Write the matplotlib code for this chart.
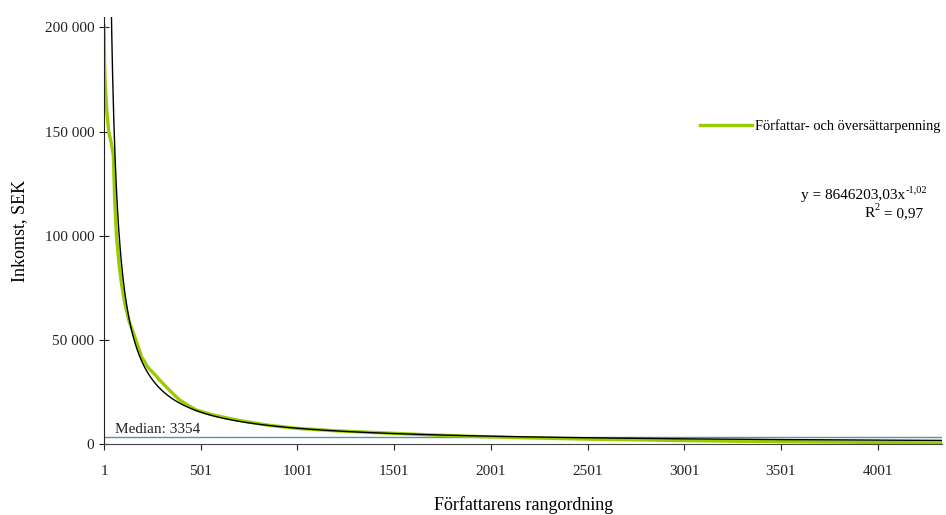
import numpy as np
import matplotlib
matplotlib.use("Agg")
import matplotlib.pyplot as plt
from matplotlib.transforms import offset_copy

plt.rcParams['font.family'] = ['Liberation Serif', 'DejaVu Serif']

# Rank vs income
rank = [1, 3, 6, 15, 25, 39, 49, 56, 65, 80, 91, 108, 130, 160, 195, 230, 272, 289,
        350, 393, 440, 479, 560, 650, 738, 850, 997, 1200, 1427, 1700, 2001, 2300,
        2501, 2800, 3001, 3300, 3501, 3800, 4001, 4200, 4335]
income = [201000, 185000, 174400, 160000, 150000, 144200, 138500, 117000, 100000,
          85000, 77000, 67500, 59000, 51400, 41800, 36500, 32500, 30600,
          24800, 21000, 18300, 16250, 14000, 12200, 10650, 9000, 7480, 6300, 5370,
          4300, 3350, 2700, 2300, 1900, 1600, 1300, 1100, 900, 700, 550, 450]

# Power-law trendline parameters from the chart
fit_a = 8646203.03
fit_b = -1.02
median = 3354

fig = plt.figure(figsize=(9.46, 5.15), dpi=100)
ax = fig.add_axes([0.110, 0.138, 0.886, 0.829])

xf = np.linspace(30, 4335, 2000)
ax.plot(xf, fit_a * xf ** fit_b, color='black', lw=1.0, zorder=3)
ax.plot(rank, income, color='#99cc00', lw=2.4, zorder=2,
        label='Författar- och översättarpenning')
ax.axhline(median, color='#4a9aa8', lw=1.0, zorder=1)
ax.text(60, median + 1800, 'Median: 3354', fontsize=11, color='#222222')

ax.set_xlim(1, 4335)
ax.set_ylim(0, 205000)
ax.set_xticks([1, 501, 1001, 1501, 2001, 2501, 3001, 3501, 4001])
ax.set_yticks([0, 50000, 100000, 150000, 200000])
ax.set_yticklabels(['0', '50 000', '100 000', '150 000', '200 000'])
for s in ['top', 'right']:
    ax.spines[s].set_visible(False)
ax.spines['left'].set_color('#222222')
ax.spines['bottom'].set_color('#444444')
ax.tick_params(axis='y', direction='inout', length=7, labelsize=11, colors='#222222')
ax.tick_params(axis='x', direction='out', length=4, labelsize=11, colors='#222222', pad=11)

ax.set_xlabel('Författarens rangordning', fontsize=13, labelpad=13)
ax.set_ylabel('Inkomst, SEK', fontsize=13, labelpad=12)

ax.legend(loc='upper right', bbox_to_anchor=(1.013, 0.79), frameon=False,
          fontsize=10.4, handlelength=3.6, handletextpad=0.2)

# fit equation, superscripts drawn as small separate texts
tr = fig.transFigure
sup1 = fig.text(0.980, 0.632, '-1,02', ha='right', va='center', fontsize=7.5)
rest2 = fig.text(0.976, 0.586, ' = 0,97', ha='right', va='center', fontsize=11)
fig.canvas.draw()
w1 = sup1.get_window_extent().width
w3 = rest2.get_window_extent().width
fig.text(0.980, 0.621, 'y = 8646203,03x', ha='right', va='center', fontsize=11,
         transform=offset_copy(tr, fig=fig, x=-w1, y=0, units='dots'))
sup2 = fig.text(0.976, 0.598, '2', ha='right', va='center', fontsize=7.5,
                transform=offset_copy(tr, fig=fig, x=-w3, y=0, units='dots'))
fig.canvas.draw()
w2 = sup2.get_window_extent().width
fig.text(0.976, 0.586, 'R', ha='right', va='center', fontsize=11,
         transform=offset_copy(tr, fig=fig, x=-(w3 + w2), y=0, units='dots'))

fig.savefig('out.png', dpi=100)
